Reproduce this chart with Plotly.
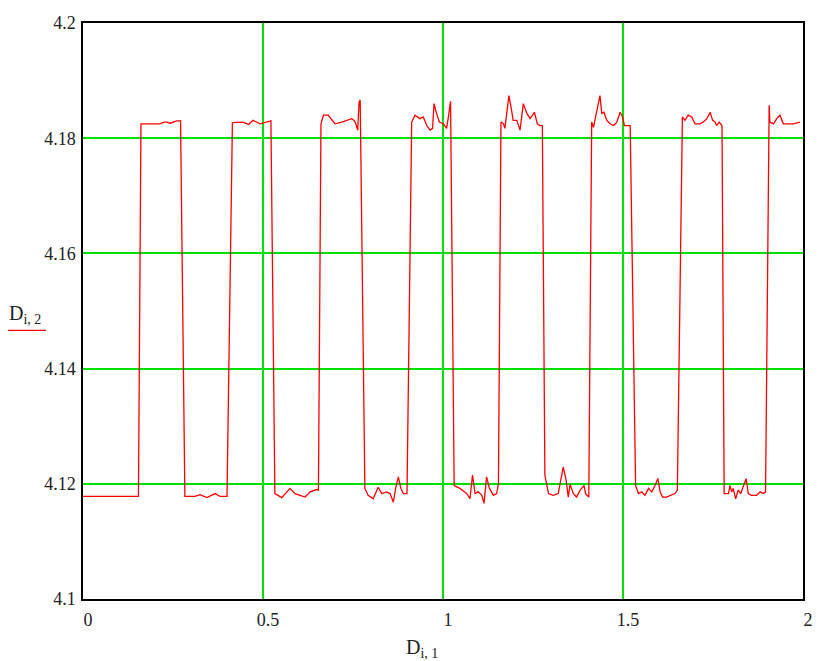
import plotly.graph_objects as go

# D[i,1] and D[i,2]
d1 = [
    0.000, 0.154, 0.161, 0.214, 0.225, 0.233, 0.242, 0.260, 0.271, 0.283,
    0.311, 0.325, 0.344, 0.367, 0.381, 0.400, 0.415, 0.444, 0.460, 0.472,
    0.492, 0.519, 0.522, 0.533, 0.552, 0.575, 0.589, 0.603, 0.617, 0.631,
    0.649, 0.654, 0.661, 0.668, 0.681, 0.691, 0.700, 0.719, 0.732, 0.746,
    0.753, 0.758, 0.763, 0.767, 0.770, 0.783, 0.792, 0.806, 0.820, 0.830,
    0.843, 0.853, 0.862, 0.869, 0.876, 0.883, 0.890, 0.900, 0.913, 0.922,
    0.936, 0.945, 0.955, 0.964, 0.971, 0.975, 0.982, 0.990, 1.001, 1.010,
    1.015, 1.021, 1.031, 1.047, 1.066, 1.075, 1.082, 1.089, 1.098, 1.108,
    1.114, 1.121, 1.129, 1.140, 1.149, 1.154, 1.161, 1.168, 1.172, 1.177,
    1.183, 1.189, 1.195, 1.205, 1.214, 1.223, 1.233, 1.242, 1.254, 1.262,
    1.269, 1.276, 1.283, 1.293, 1.306, 1.320, 1.328, 1.334, 1.342, 1.348,
    1.353, 1.362, 1.371, 1.381, 1.392, 1.396, 1.405, 1.413, 1.418, 1.425,
    1.432, 1.436, 1.441, 1.447, 1.455, 1.464, 1.474, 1.483, 1.492, 1.499,
    1.504, 1.520, 1.535, 1.543, 1.552, 1.561, 1.571, 1.580, 1.589, 1.597,
    1.603, 1.610, 1.621, 1.635, 1.644, 1.651, 1.665, 1.672, 1.681, 1.691,
    1.700, 1.714, 1.723, 1.733, 1.742, 1.749, 1.756, 1.760, 1.767, 1.775,
    1.781, 1.793, 1.797, 1.802, 1.806, 1.813, 1.820, 1.827, 1.834, 1.842,
    1.848, 1.857, 1.871, 1.881, 1.890, 1.896, 1.906, 1.908, 1.918, 1.927,
    1.936, 1.945, 1.955, 1.973, 1.992,
]
d2 = [
    4.1178, 4.1178, 4.1825, 4.1825, 4.1828, 4.1828, 4.1826, 4.1830, 4.1830, 4.1178,
    4.1178, 4.1181, 4.1176, 4.1183, 4.1178, 4.1178, 4.1827, 4.1828, 4.1824, 4.1831,
    4.1825, 4.1830, 4.1830, 4.1183, 4.1176, 4.1192, 4.1183, 4.1180, 4.1177, 4.1186,
    4.1190, 4.1189, 4.1825, 4.1840, 4.1840, 4.1832, 4.1825, 4.1828, 4.1831, 4.1834,
    4.1831, 4.1825, 4.1814, 4.1863, 4.1866, 4.1192, 4.1180, 4.1174, 4.1194, 4.1183,
    4.1186, 4.1183, 4.1168, 4.1194, 4.1212, 4.1192, 4.1183, 4.1183, 4.1828, 4.1840,
    4.1834, 4.1837, 4.1822, 4.1814, 4.1817, 4.1860, 4.1843, 4.1828, 4.1825, 4.1817,
    4.1837, 4.1864, 4.1197, 4.1192, 4.1183, 4.1174, 4.1215, 4.1183, 4.1186, 4.1180,
    4.1166, 4.1212, 4.1192, 4.1180, 4.1183, 4.1200, 4.1828, 4.1825, 4.1817, 4.1843,
    4.1874, 4.1854, 4.1831, 4.1831, 4.1814, 4.1860, 4.1843, 4.1834, 4.1845, 4.1825,
    4.1822, 4.1822, 4.1215, 4.1183, 4.1180, 4.1183, 4.1206, 4.1229, 4.1206, 4.1177,
    4.1199, 4.1183, 4.1177, 4.1189, 4.1197, 4.1183, 4.1177, 4.1828, 4.1819, 4.1843,
    4.1866, 4.1874, 4.1843, 4.1845, 4.1831, 4.1825, 4.1822, 4.1828, 4.1845, 4.1837,
    4.1822, 4.1822, 4.1197, 4.1183, 4.1186, 4.1180, 4.1192, 4.1186, 4.1197, 4.1209,
    4.1186, 4.1177, 4.1177, 4.1180, 4.1183, 4.1189, 4.1837, 4.1831, 4.1840, 4.1837,
    4.1825, 4.1825, 4.1828, 4.1834, 4.1845, 4.1831, 4.1828, 4.1822, 4.1828, 4.1822,
    4.1183, 4.1183, 4.1197, 4.1186, 4.1192, 4.1174, 4.1189, 4.1183, 4.1194, 4.1209,
    4.1183, 4.1180, 4.1180, 4.1186, 4.1183, 4.1186, 4.1857, 4.1828, 4.1825, 4.1834,
    4.1840, 4.1825, 4.1825, 4.1825, 4.1828,
]

x_ticks = [0, 0.5, 1, 1.5, 2]
x_labels = ["0", "0.5", "1", "1.5", "2"]
y_ticks = [4.1, 4.12, 4.14, 4.16, 4.18, 4.2]
y_labels = ["4.1", "4.12", "4.14", "4.16", "4.18", "4.2"]

serif = "Liberation Serif"
grid_green = "#00e000"
ink = "#222222"

fig = go.Figure()
fig.add_trace(go.Scatter(
    x=d1, y=d2, mode="lines",
    line=dict(color="#ff0000", width=1.3),
    showlegend=False,
))

# the page body adds an 8px offset, so the figure is shifted by that much
fig.update_layout(
    width=822, height=653,
    margin=dict(l=75, r=27, t=15, b=62),
    paper_bgcolor="white",
    plot_bgcolor="white",
    font=dict(family=serif, size=18, color=ink),
)
fig.update_xaxes(
    range=[0, 2], tickvals=x_ticks, ticktext=x_labels,
    tickfont=dict(family=serif, size=18, color=ink),
    showgrid=True, gridcolor=grid_green, gridwidth=1.5,
    showline=True, linecolor="black", linewidth=1.5, mirror=True,
    ticks="", zeroline=False, ticklabelshift=5, ticklabelstandoff=4,
    automargin=False,
)
fig.update_yaxes(
    range=[4.1, 4.2], tickvals=y_ticks, ticktext=y_labels,
    tickfont=dict(family=serif, size=18, color=ink),
    showgrid=True, gridcolor=grid_green, gridwidth=1.5,
    showline=True, linecolor="black", linewidth=1.5, mirror=True,
    ticks="", zeroline=False, ticklabelstandoff=2,
    automargin=False,
)

# axis titles the way Mathcad draws them
fig.add_annotation(
    text="D<sub>i, 1</sub>", xref="paper", yref="paper",
    x=0.471, y=-0.086, xanchor="center", yanchor="middle",
    showarrow=False, font=dict(family=serif, size=20, color=ink),
)
fig.add_annotation(
    text="D<sub>i, 2</sub>", xref="paper", yref="paper",
    x=-0.081, y=0.494, xanchor="center", yanchor="middle",
    showarrow=False, font=dict(family=serif, size=20, color=ink),
)
# trace sample line under the y title
fig.add_shape(
    type="line", xref="paper", yref="paper",
    x0=-0.1056, x1=-0.0514, y0=0.4663, y1=0.4663,
    line=dict(color="#ff0000", width=1.3),
)

fig.write_html("out.html")
